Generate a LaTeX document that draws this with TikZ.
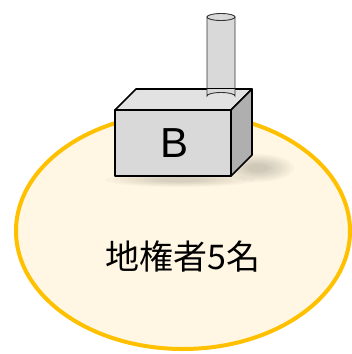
\documentclass[tikz,border=0pt]{standalone}
\usepackage{fontspec}
\newfontfamily\jpfont{Noto Sans CJK JP}
\newfontfamily\labelfont{Liberation Sans}
\definecolor{landfill}{HTML}{FFF7E4}
\definecolor{landline}{HTML}{FFC000}
\definecolor{boxfront}{HTML}{D9D9D9}
\definecolor{boxtop}{HTML}{E2E2E2}
\definecolor{boxside}{HTML}{AFAFAF}
\tikzset{
  face/.style={draw=black, line width=1.6pt, line join=round},
  pipe/.style={draw=black!80, line width=0.9pt, fill=boxfront},
}
\begin{document}
\begin{tikzpicture}[x=1pt, y=-1pt]
  \useasboundingbox (0,0) rectangle (352,354);
  % land parcel
  \draw[landline, line width=4pt, fill=landfill] (183,231) ellipse [x radius=167, y radius=118];
  % soft shadow cast by the building
  \foreach \r in {1,0.9,0.8,0.7,0.6,0.5,0.4,0.3}{
    \fill[black, opacity=0.025] (258,168) ellipse [x radius=36*\r, y radius=14*\r];
    \fill[black, opacity=0.02] (180,180) ellipse [x radius=75*\r, y radius=7*\r];
  }
  % chimney
  \path[pipe] (207,17) -- (207,96) arc[start angle=180, end angle=360, x radius=14, y radius=3.5] -- (235,17) -- cycle;
  \draw[pipe] (221,17) ellipse [x radius=14, y radius=3.5];
  % building: top, side and front faces
  \coordinate (fl) at (115,110);
  \coordinate (fr) at (231,110);
  \coordinate (br) at (231,176);
  \coordinate (bl) at (115,176);
  \coordinate (tl) at (136,89);
  \coordinate (tr) at (252,89);
  \coordinate (sr) at (252,155);
  \path[face, fill=boxtop] (fl) -- (tl) -- (tr) -- (fr) -- cycle;
  % chimney base sits on the roof
  \path[pipe, draw=none] (207,89) -- (207,96) arc[start angle=180, end angle=360, x radius=14, y radius=3.5] -- (235,89) -- cycle;
  \draw[black!80, line width=0.9pt] (207,88) -- (207,96) arc[start angle=180, end angle=360, x radius=14, y radius=3.5] -- (235,88);
  \path[face, fill=boxside] (fr) -- (tr) -- (sr) -- (br) -- cycle;
  \path[face, fill=boxfront] (fl) -- (fr) -- (br) -- (bl) -- cycle;
  \node[font=\labelfont\fontsize{42}{44}\selectfont] (lbl) at (175,143) {B};
  \node[font=\jpfont\fontsize{34}{38}\selectfont] (own) at (183,257) {地権者5名};
\end{tikzpicture}
\end{document}
